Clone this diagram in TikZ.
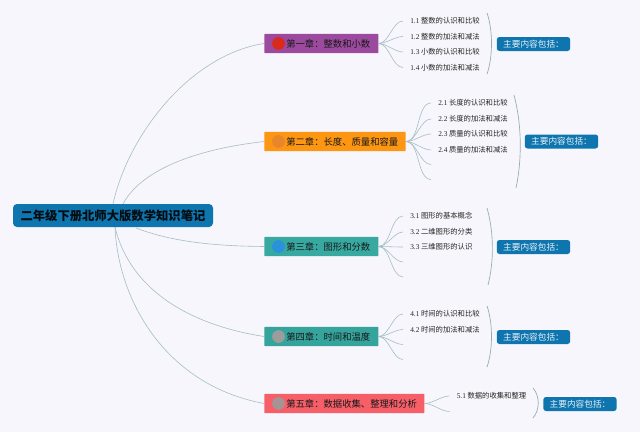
\documentclass[tikz,border=0pt]{standalone}
\usepackage{fontspec}
\setmainfont{Liberation Serif}
\newfontfamily\cjk{Noto Sans CJK SC}
\definecolor{bgc}{HTML}{F6F6FC}
\definecolor{linec}{HTML}{A6BEC4}
\definecolor{blueb}{HTML}{0F75AE}
\definecolor{c1}{HTML}{9C4A9E}
\definecolor{c2}{HTML}{FD9612}
\definecolor{c3}{HTML}{38A9A1}
\definecolor{c4}{HTML}{35A49C}
\definecolor{c5}{HTML}{F65E68}
\definecolor{d1c}{HTML}{DA2A1E}
\definecolor{d2c}{HTML}{E8862C}
\definecolor{d3c}{HTML}{2A92DA}
\definecolor{d4c}{HTML}{9C9C9C}
\definecolor{d5c}{HTML}{A69494}
\tikzset{
  rootbox/.style={fill=blueb,rounded corners=3pt,minimum width=150pt,minimum height=17.25pt,inner sep=0pt,text=black!90!blueb,font=\cjk\bfseries\fontsize{9.25pt}{12pt}\selectfont},
  chapbox/.style={anchor=west,rounded corners=0.5pt,minimum height=14.5pt,inner xsep=1.5pt,inner ysep=0pt,align=left,text=black!90,font=\cjk\fontsize{7pt}{8pt}\selectfont},
  itemtxt/.style={anchor=west,inner xsep=5.25pt,inner ysep=0pt,text=black!85,font=\cjk\fontsize{5.5pt}{7pt}\selectfont},
  sumbox/.style={fill=blueb,rounded corners=2pt,minimum width=55pt,minimum height=10.5pt,inner sep=0pt,text=white!90!blueb,font=\cjk\fontsize{6.5pt}{8pt}\selectfont},
  dot/.style={circle,minimum size=9.6pt,inner sep=0pt},
  conn/.style={draw=linec,line width=0.45pt},
  brace/.style={draw=linec!90!black,line width=0.5pt},
}
\newcommand{\itemlab}[2]{{\rmfamily #1} #2}
\begin{document}
\begin{tikzpicture}[x=0.75pt,y=-0.75pt]
\path[use as bounding box,fill=bgc] (0,0) rectangle (640,432);
% root attachment points
\coordinate (rt) at (113,204);
\coordinate (rt2) at (123,204);
\coordinate (rb) at (136,228);
\coordinate (rb2) at (115,227);
% chapters
\node[chapbox,fill=c1,text width=82.5pt] (ch1) at (264,43.5) {\hspace*{15pt}第一章：整数和小数};
\node[chapbox,fill=c2,text width=103pt] (ch2) at (264,141.5) {\hspace*{15pt}第二章：长度、质量和容量};
\node[chapbox,fill=c3,text width=82.5pt] (ch3) at (264,246.5) {\hspace*{15pt}第三章：图形和分数};
\node[chapbox,fill=c4,text width=82.5pt] (ch4) at (264,336.5) {\hspace*{15pt}第四章：时间和温度};
\node[chapbox,fill=c5,text width=117pt] (ch5) at (264,403.5) {\hspace*{15pt}第五章：数据收集、整理和分析};
% bullets
\node[dot,fill=d1c] (d1) at (278.5,43.5) {};
\node[dot,fill=d2c] (d2) at (278.5,141.5) {};
\node[dot,fill=d3c] (d3) at (278.5,246.5) {};
\node[dot,fill=d4c] (d4) at (278.5,336.5) {};
\node[dot,fill=d5c] (d5) at (278.5,403.5) {};
% items
\node[itemtxt] (i11) at (403,21) {\itemlab{1.1}{整数的认识和比较}};
\node[itemtxt] (i12) at (403,36.5) {\itemlab{1.2}{整数的加法和减法}};
\node[itemtxt] (i13) at (403,52) {\itemlab{1.3}{小数的认识和比较}};
\node[itemtxt] (i14) at (403,67.5) {\itemlab{1.4}{小数的加法和减法}};
\node[itemtxt] (i21) at (431,103) {\itemlab{2.1}{长度的认识和比较}};
\node[itemtxt] (i22) at (431,119) {\itemlab{2.2}{长度的加法和减法}};
\node[itemtxt] (i23) at (431,134) {\itemlab{2.3}{质量的认识和比较}};
\node[itemtxt] (i24) at (431,150) {\itemlab{2.4}{质量的加法和减法}};
\coordinate (i25) at (431,164.5);
\coordinate (i26) at (431,179.5);
\node[itemtxt] (i31) at (403,216) {\itemlab{3.1}{图形的基本概念}};
\node[itemtxt] (i32) at (403,232) {\itemlab{3.2}{二维图形的分类}};
\node[itemtxt] (i33) at (403,247) {\itemlab{3.3}{三维图形的认识}};
\coordinate (i34) at (403,262);
\coordinate (i35) at (403,277);
\node[itemtxt] (i41) at (403,314) {\itemlab{4.1}{时间的认识和比较}};
\node[itemtxt] (i42) at (403,329.5) {\itemlab{4.2}{时间的加法和减法}};
\coordinate (i43) at (403,344.5);
\coordinate (i44) at (403,359.5);
\node[itemtxt] (i51) at (449.5,396) {\itemlab{5.1}{数据的收集和整理}};
\coordinate (i52) at (449.5,411.5);
% connectors root-chapter
\draw[conn] (rt) .. controls (128,135) and (190,55) .. (ch1.west);
\draw[conn] (rt2) .. controls (140,172) and (190,150) .. (ch2.west);
\draw[conn] (rb) .. controls (175,243) and (220,246) .. (ch3.west);
\draw[conn] (rb2) .. controls (130,290) and (190,325) .. (ch4.west);
\draw[conn] (rb2) .. controls (118,300) and (165,385) .. (ch5.west);
% connectors chapter-items
\foreach \c/\i in {ch1/i11,ch1/i12,ch1/i13,ch1/i14,ch2/i21,ch2/i22,ch2/i23,ch2/i24,ch2/i25,ch2/i26,ch3/i31,ch3/i32,ch3/i33,ch3/i34,ch3/i35,ch4/i41,ch4/i42,ch4/i43,ch4/i44,ch5/i51,ch5/i52}
  \draw[conn] (\c.east) to[out=0,in=180,looseness=0.8] (\i);
% root on top
\node[rootbox] (root) at (113,215.5) {二年级下册北师大版数学知识笔记};
% braces
\coordinate (b1a) at (487,13); \coordinate (b1b) at (487,74);
\coordinate (b2a) at (514,95); \coordinate (b2b) at (516,188);
\coordinate (b3a) at (487,208); \coordinate (b3b) at (488,285);
\coordinate (b4a) at (487,306); \coordinate (b4b) at (487,367);
\coordinate (b5a) at (533,388); \coordinate (b5b) at (533,418);
\draw[brace] (b1a) .. controls (493,30) and (493,57) .. (b1b);
\draw[brace] (b2a) .. controls (522,125) and (522,160) .. (b2b);
\draw[brace] (b3a) .. controls (494,232) and (494,262) .. (b3b);
\draw[brace] (b4a) .. controls (493,323) and (493,350) .. (b4b);
\draw[brace] (b5a) .. controls (540,396) and (540,410) .. (b5b);
% summaries
\node[sumbox] (s1) at (533.5,44) {主要内容包括：};
\node[sumbox] (s2) at (561.5,141.5) {主要内容包括：};
\node[sumbox] (s3) at (533.5,247) {主要内容包括：};
\node[sumbox] (s4) at (533.5,337) {主要内容包括：};
\node[sumbox] (s5) at (580,404) {主要内容包括：};
\end{tikzpicture}
\end{document}
